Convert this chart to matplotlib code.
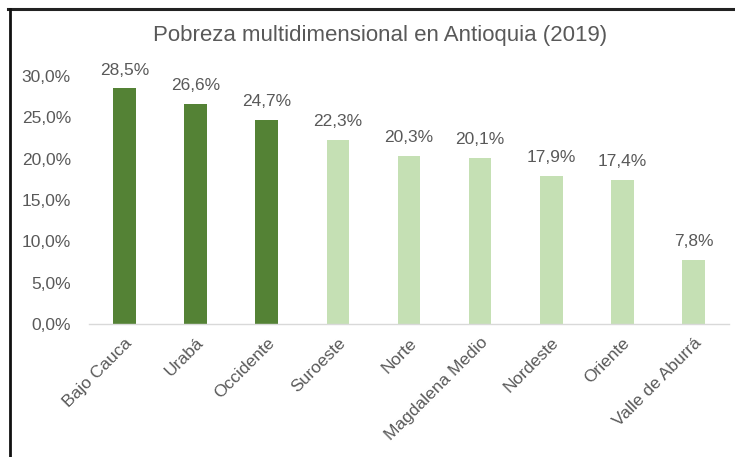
import matplotlib.pyplot as plt
from matplotlib import font_manager
from matplotlib.lines import Line2D

regions = ["Bajo Cauca", "Urabá", "Occidente", "Suroeste", "Norte",
           "Magdalena Medio", "Nordeste", "Oriente", "Valle de Aburrá"]
poverty = [28.5, 26.6, 24.7, 22.3, 20.3, 20.1, 17.9, 17.4, 7.8]
highlight = [True, True, True, False, False, False, False, False, False]
yticks = [0, 5, 10, 15, 20, 25, 30]

names = {f.name for f in font_manager.fontManager.ttflist}
family = "Liberation Sans Narrow" if "Liberation Sans Narrow" in names else "Liberation Sans"
plt.rcParams["font.family"] = [family, "DejaVu Sans"]

text_color = "#595959"
dark = "#548235"
light = "#C5E0B4"

fig = plt.figure(figsize=(7.35, 4.57), dpi=100)
ax = fig.add_axes([89 / 735, 1 - 324 / 457, 640 / 735, 248 / 457])

x = list(range(len(regions)))
colors = [dark if h else light for h in highlight]
ax.bar(x, poverty, width=0.32, color=colors)

for xi, v in zip(x, poverty):
    ax.text(xi, v + 1.3, f"{v:.1f}%".replace(".", ","), ha="center", va="bottom",
            fontsize=12.5, color=text_color)

ax.set_xlim(-0.5, len(regions) - 0.5)
ax.set_ylim(0, 30)
ax.set_yticks(yticks)
ax.set_yticklabels([f"{t:.1f}%".replace(".", ",") for t in yticks], fontsize=12.5, color=text_color)
ax.set_xticks(x)
ax.set_xticklabels(regions, rotation=45, ha="right", rotation_mode="anchor",
                   fontsize=12.5, color=text_color)
ax.tick_params(axis="both", length=0)
ax.tick_params(axis="y", pad=13)
ax.tick_params(axis="x", pad=8)

for side in ["top", "right", "left"]:
    ax.spines[side].set_visible(False)
ax.spines["bottom"].set_color("#D9D9D9")
ax.spines["bottom"].set_linewidth(1.0)

fig.text(380 / 735, 1 - 35 / 457, "Pobreza multidimensional en Antioquia (2019)",
         ha="center", va="center", fontsize=16, color=text_color)

# frame of the screenshot
fig.add_artist(Line2D([8 / 735, 1], [1 - 9 / 457, 1 - 9 / 457], color="#222222", lw=2.2))
fig.add_artist(Line2D([10 / 735, 10 / 735], [0, 1 - 9 / 457], color="#111111", lw=2.0))

fig.savefig("out.png", dpi=100)
